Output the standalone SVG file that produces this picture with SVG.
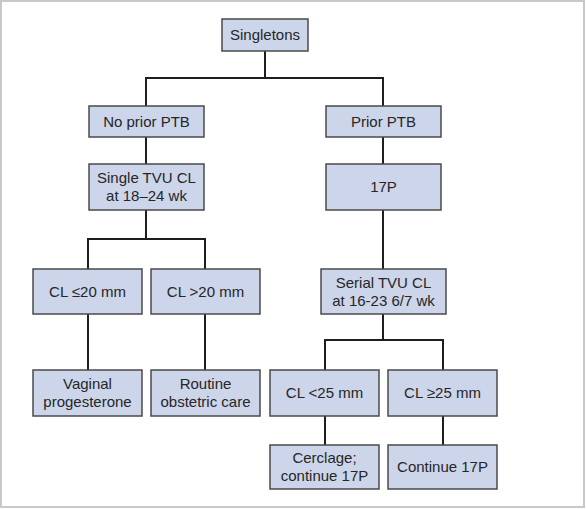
<svg xmlns="http://www.w3.org/2000/svg" width="586" height="509" viewBox="0 0 586 509">
<style>
.box{fill:#ccd5ea;stroke:#4a4a4a;stroke-width:1.5}
.t{font-family:"Liberation Sans",Arial,sans-serif;font-size:15px;fill:#262626;text-anchor:middle}
.c{fill:none;stroke:#1e1e1e;stroke-width:2}
</style>
<rect x="0" y="0" width="586" height="509" fill="#ffffff"/>
<rect x="1" y="1" width="583" height="506" fill="none" stroke="#c8c8c8" stroke-width="2"/>
<g id="connectors">
<path class="c" d="M265 51V78M146 106V78H383V106"/>
<path class="c" d="M146 137V164M383 137V164"/>
<path class="c" d="M146 210V239M88 269V239H205V269"/>
<path class="c" d="M383 210V269"/>
<path class="c" d="M88 314V370M205 314V370"/>
<path class="c" d="M383 314V340M325 370V340H443V370"/>
<path class="c" d="M325 416V445M443 416V445"/>
</g>
<g id="singletons"><rect class="box" x="222" y="19" width="86" height="32"/><text class="t" x="265" y="40">Singletons</text></g>
<g id="no-prior-ptb"><rect class="box" x="89" y="106" width="115" height="31"/><text class="t" x="146.5" y="127">No prior PTB</text></g>
<g id="prior-ptb"><rect class="box" x="326" y="106" width="115" height="31"/><text class="t" x="383.5" y="127">Prior PTB</text></g>
<g id="single-tvu"><rect class="box" x="89" y="164" width="115" height="46"/><text class="t" x="146.5" y="183">Single TVU CL</text><text class="t" x="146.5" y="201">at 18–24 wk</text></g>
<g id="p17"><rect class="box" x="326" y="164" width="115" height="46"/><text class="t" x="383.5" y="192">17P</text></g>
<g id="cl-le20"><rect class="box" x="33" y="269" width="109" height="45"/><text class="t" x="87.5" y="297">CL ≤20 mm</text></g>
<g id="cl-gt20"><rect class="box" x="151" y="269" width="109" height="45"/><text class="t" x="205.5" y="297">CL &gt;20 mm</text></g>
<g id="serial-tvu"><rect class="box" x="321" y="269" width="125" height="45"/><text class="t" x="383.5" y="288">Serial TVU CL</text><text class="t" x="383.5" y="306">at 16-23 6/7 wk</text></g>
<g id="vaginal"><rect class="box" x="33" y="370" width="109" height="46"/><text class="t" x="87.5" y="389">Vaginal</text><text class="t" x="87.5" y="407">progesterone</text></g>
<g id="routine"><rect class="box" x="151" y="370" width="109" height="46"/><text class="t" x="205.5" y="389">Routine</text><text class="t" x="205.5" y="407">obstetric care</text></g>
<g id="cl-lt25"><rect class="box" x="270" y="370" width="109" height="46"/><text class="t" x="324.5" y="398">CL &lt;25 mm</text></g>
<g id="cl-ge25"><rect class="box" x="388" y="370" width="109" height="46"/><text class="t" x="442.5" y="398">CL ≥25 mm</text></g>
<g id="cerclage"><rect class="box" x="270" y="445" width="109" height="44"/><text class="t" x="324.5" y="463">Cerclage;</text><text class="t" x="324.5" y="481">continue 17P</text></g>
<g id="continue-17p"><rect class="box" x="388" y="445" width="109" height="44"/><text class="t" x="442.5" y="472">Continue 17P</text></g>
</svg>
